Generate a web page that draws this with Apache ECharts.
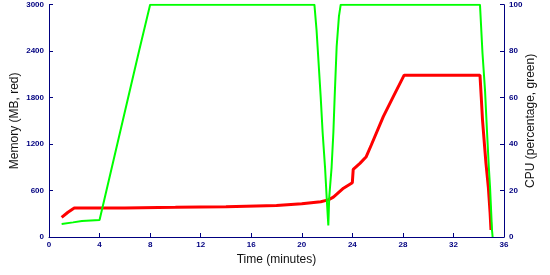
<!DOCTYPE html>
<html>
<head>
<meta charset="utf-8">
<script src="https://cdn.jsdelivr.net/npm/echarts@6/dist/echarts.min.js"></script>
<style>html,body{margin:0;padding:0;background:#fff}#c{width:550px;height:275px}</style>
</head>
<body>
<div id="c"></div>
<script>
var xTicks = [0, 4, 8, 12, 16, 20, 24, 28, 32, 36];
var memTicks = [0, 600, 1200, 1800, 2400, 3000];
var cpuTicks = [0, 20, 40, 60, 80, 100];

var memTime = [1.0, 1.5, 2.0, 6, 10, 14, 18, 20, 21.5, 22.1, 22.5, 23.3, 24.0, 24.07, 24.6, 25.1, 25.5, 26.45, 27.24, 28.1, 34.1, 34.2, 34.3, 34.47, 34.57, 34.76, 34.9, 34.97];
var memVal  = [254, 320, 375, 376, 383, 392, 408, 428, 456, 480, 515, 630, 701, 874, 951, 1037, 1188, 1554, 1812, 2090, 2090, 1808, 1511, 1162, 956, 646, 310, 90];

var cpuTime = [1.0, 1.9, 2.6, 4.0, 4.05, 7.12, 8.0, 21.0, 21.17, 21.25, 21.5, 21.65, 21.84, 21.97, 22.1, 22.17, 22.36, 22.5, 22.6, 22.76, 22.94, 23.08, 34.1, 34.3, 34.5, 34.65, 34.8, 34.9, 35.05, 35.1];
var cpuVal  = [5.6, 6.3, 6.9, 7.3, 7.5, 80, 100, 100, 89, 82, 60, 45, 30, 17, 5, 17, 30, 45, 60, 82, 95, 100, 100, 79, 63, 46, 30, 21, 3, 0];

function pairs(xs, ys) { return xs.map(function (x, i) { return [x, ys[i]]; }); }
function plain(v) { return String(v); }

var navy = '#000080';
var tickFont = { color: navy, fontSize: 8, fontWeight: 'bold', fontFamily: 'Liberation Sans', formatter: plain };
var nameFont = { color: '#111', fontSize: 12, fontFamily: 'Liberation Sans' };

var chart = echarts.init(document.getElementById('c'), null, { renderer: 'canvas' });
chart.setOption({
  animation: false,
  backgroundColor: '#fff',
  grid: { left: 49, right: 46, top: 4.7, bottom: 38, containLabel: false, outerBoundsMode: 'none' },
  xAxis: {
    type: 'value', min: xTicks[0], max: xTicks[xTicks.length - 1], interval: xTicks[1] - xTicks[0],
    name: 'Time (minutes)', nameLocation: 'middle', nameGap: 17, nameMoveOverlap: false, nameTextStyle: nameFont,
    axisLine: { lineStyle: { color: navy, width: 1 } },
    axisTick: { inside: true, length: 4, lineStyle: { color: navy } },
    axisLabel: Object.assign({ margin: 4 }, tickFont),
    splitLine: { show: false }
  },
  yAxis: [{
    type: 'value', position: 'left', min: memTicks[0], max: memTicks[memTicks.length - 1], interval: memTicks[1] - memTicks[0],
    name: 'Memory (MB, red)', nameLocation: 'middle', nameGap: 28, nameMoveOverlap: false, nameTextStyle: nameFont,
    axisLine: { show: true, lineStyle: { color: navy, width: 1 } },
    axisTick: { show: true, inside: true, length: 4, lineStyle: { color: navy } },
    axisLabel: Object.assign({ margin: 5 }, tickFont),
    splitLine: { show: false }
  }, {
    type: 'value', position: 'right', min: cpuTicks[0], max: cpuTicks[cpuTicks.length - 1], interval: cpuTicks[1] - cpuTicks[0],
    name: 'CPU (percentage, green)', nameLocation: 'middle', nameGap: 21, nameMoveOverlap: false, nameTextStyle: nameFont,
    axisLine: { show: true, lineStyle: { color: navy, width: 1 } },
    axisTick: { show: true, inside: true, length: 4, lineStyle: { color: navy } },
    axisLabel: Object.assign({ margin: 5 }, tickFont),
    splitLine: { show: false }
  }],
  series: [{
    name: 'Memory', type: 'line', yAxisIndex: 0, showSymbol: false, symbol: 'none',
    lineStyle: { color: '#ff0000', width: 3 }, data: pairs(memTime, memVal)
  }, {
    name: 'CPU', type: 'line', yAxisIndex: 1, showSymbol: false, symbol: 'none',
    lineStyle: { color: '#00ff00', width: 2 }, data: pairs(cpuTime, cpuVal)
  }]
});
</script>
</body>
</html>
